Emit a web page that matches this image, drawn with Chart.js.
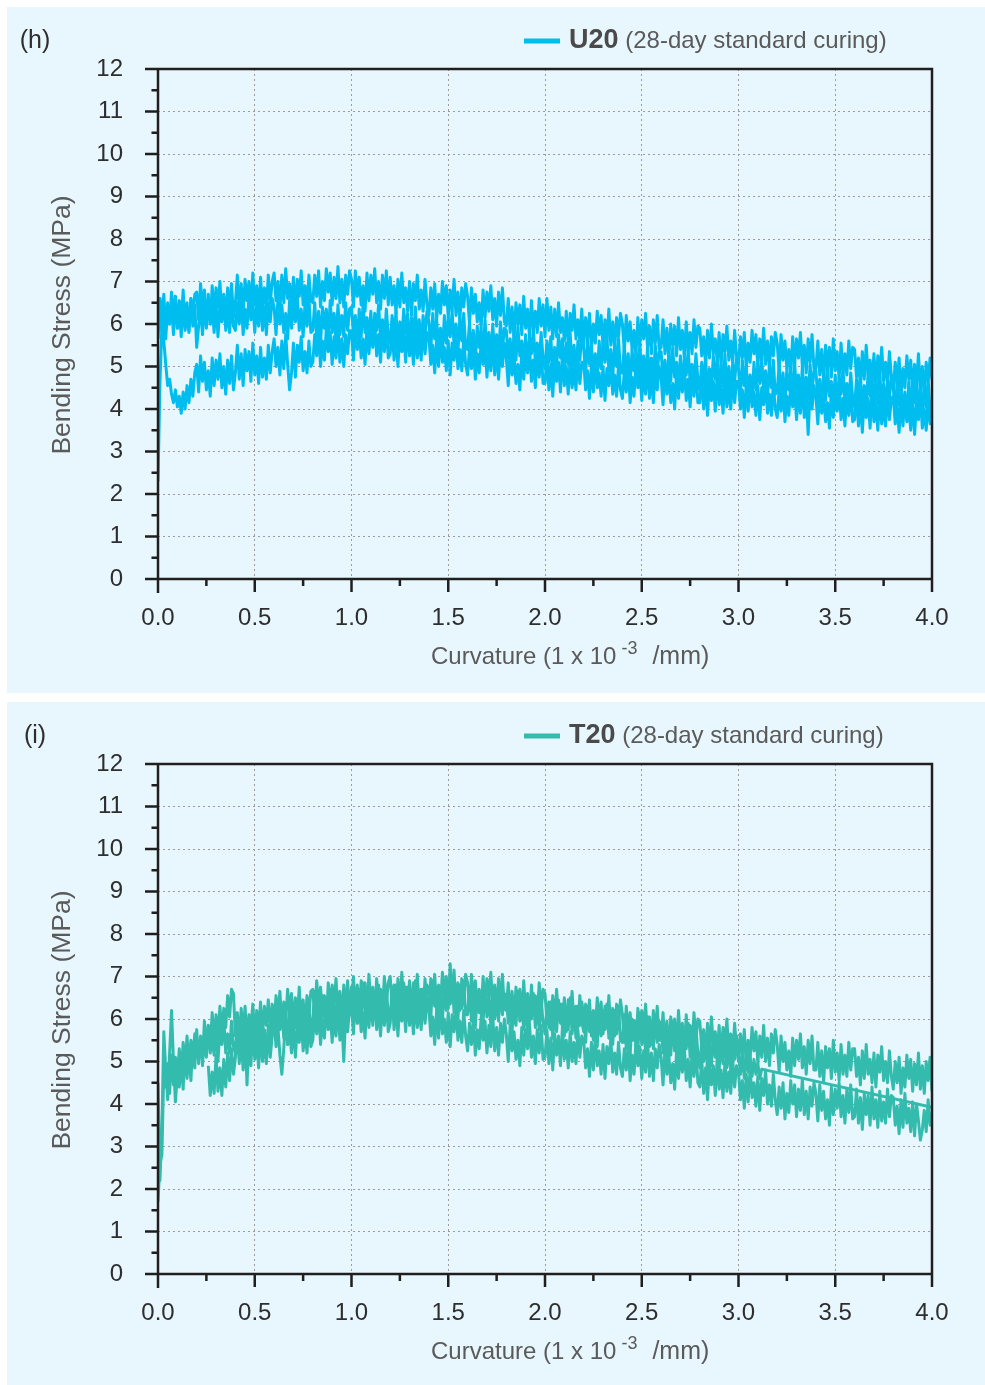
<!DOCTYPE html>
<html>
<head>
<meta charset="utf-8">
<title>Bending stress vs curvature</title>
<script src="https://cdn.jsdelivr.net/npm/chart.js@4.4.1/dist/chart.umd.min.js"></script>
<style>
  html, body { margin: 0; padding: 0; background: #ffffff; }
  body { width: 985px; height: 1385px; position: relative; overflow: hidden; }
  .panel { position: absolute; left: 7px; width: 978px; background: #e8f6fd; }
  #panelH { top: 7px; height: 686px; }
  #panelI { top: 702px; height: 683px; }
  canvas { display: block; }
</style>
</head>
<body>
<div class="panel" id="panelH"><canvas id="chartH" width="978" height="686"></canvas></div>
<div class="panel" id="panelI"><canvas id="chartI" width="978" height="683"></canvas></div>
<script>
const FONT = '"Liberation Sans", Arial, sans-serif';

// curvature sampling of the logged curves (1e-3 /mm)
const CURV_STEP = 0.01;

const curvTicks = [0, 0.5, 1, 1.5, 2, 2.5, 3, 3.5, 4];
const curvTickLabels = ['0.0', '0.5', '1.0', '1.5', '2.0', '2.5', '3.0', '3.5', '4.0'];
const stressTicks = [0, 1, 2, 3, 4, 5, 6, 7, 8, 9, 10, 11, 12];
const stressTickLabels = ['0', '1', '2', '3', '4', '5', '6', '7', '8', '9', '10', '11', '12'];

// U20, three specimens, stress (MPa) every CURV_STEP, one row per 0.2
const u20aStart = 0;
const u20aStress = [
  5.95, 6.60, 6.10, 6.70, 5.85, 6.45, 6.00, 6.75, 6.20, 6.65, 5.90, 6.55, 6.05, 6.80, 5.95, 6.50, 5.85, 6.60, 6.15, 6.70,
  6.75, 6.10, 6.95, 6.35, 6.80, 6.15, 6.60, 6.00, 6.90, 6.25, 6.85, 6.40, 7.00, 6.20, 6.70, 6.05, 6.85, 6.30, 6.95, 6.15,
  6.50, 7.15, 6.35, 6.95, 6.20, 7.05, 6.55, 7.00, 6.30, 7.20, 6.45, 6.90, 6.25, 7.10, 6.40, 6.85, 6.35, 7.15, 6.50, 7.00,
  7.20, 6.55, 7.00, 6.35, 7.15, 6.50, 7.30, 6.60, 6.95, 6.40, 7.10, 6.30, 7.05, 6.65, 7.25, 6.45, 6.90, 6.40, 7.15, 6.55,
  6.50, 7.15, 6.65, 7.25, 6.40, 7.00, 6.55, 7.30, 6.75, 7.20, 6.45, 7.10, 6.60, 7.35, 6.50, 7.05, 6.40, 7.15, 6.70, 7.25,
  7.05, 6.40, 7.25, 6.65, 7.10, 6.45, 6.90, 6.30, 7.20, 6.55, 7.15, 6.70, 7.30, 6.50, 7.00, 6.35, 7.15, 6.60, 7.25, 6.45,
  7.10, 6.45, 6.90, 6.25, 7.05, 6.40, 7.20, 6.50, 6.85, 6.30, 7.00, 6.20, 6.95, 6.55, 7.15, 6.35, 6.80, 6.30, 7.05, 6.45,
  6.20, 6.85, 6.35, 6.95, 6.10, 6.70, 6.25, 7.00, 6.45, 6.90, 6.15, 6.80, 6.30, 7.05, 6.20, 6.75, 6.10, 6.85, 6.40, 6.95,
  6.65, 6.00, 6.85, 6.25, 6.70, 6.05, 6.50, 5.90, 6.80, 6.15, 6.75, 6.30, 6.90, 6.10, 6.60, 5.95, 6.75, 6.20, 6.85, 6.05,
  5.95, 6.60, 5.80, 6.40, 5.65, 6.50, 6.00, 6.45, 5.75, 6.65, 5.90, 6.35, 5.70, 6.55, 5.85, 6.30, 5.80, 6.60, 5.95, 6.45,
  5.70, 6.60, 5.85, 6.40, 5.65, 6.35, 5.70, 6.50, 5.80, 6.15, 5.60, 6.30, 5.50, 6.25, 5.85, 6.45, 5.65, 6.10, 5.60, 6.35,
  5.50, 6.15, 5.65, 6.25, 5.40, 6.00, 5.55, 6.30, 5.75, 6.20, 5.45, 6.10, 5.60, 6.35, 5.50, 6.05, 5.40, 6.15, 5.70, 6.25,
  6.00, 5.35, 6.20, 5.60, 6.05, 5.40, 5.85, 5.25, 6.15, 5.50, 6.10, 5.65, 6.25, 5.45, 5.95, 5.30, 6.10, 5.55, 6.20, 5.40,
  5.45, 6.10, 5.30, 5.90, 5.15, 6.00, 5.50, 5.95, 5.25, 6.15, 5.40, 5.85, 5.20, 6.05, 5.35, 5.80, 5.30, 6.10, 5.45, 5.95,
  5.90, 5.25, 5.70, 5.05, 5.85, 5.20, 6.00, 5.30, 5.65, 5.10, 5.80, 5.00, 5.75, 5.35, 5.95, 5.15, 5.60, 5.10, 5.85, 5.25,
  5.05, 5.70, 5.20, 5.80, 4.95, 5.55, 5.10, 5.85, 5.30, 5.75, 5.00, 5.65, 5.15, 5.90, 5.05, 5.60, 4.95, 5.70, 5.25, 5.80,
  5.55, 4.90, 5.75, 5.15, 5.60, 4.95, 5.40, 4.80, 5.70, 5.05, 5.65, 5.20, 5.80, 5.00, 5.50, 4.85, 5.65, 5.10, 5.75, 4.95,
  4.95, 5.60, 4.80, 5.40, 4.65, 5.50, 5.00, 5.45, 4.75, 5.65, 4.90, 5.35, 4.70, 5.55, 4.85, 5.30, 4.80, 5.60, 4.95, 5.45,
  5.40, 4.75, 5.20, 4.55, 5.35, 4.70, 5.50, 4.80, 5.15, 4.60, 5.30, 4.50, 5.25, 4.85, 5.45, 4.65, 5.10, 4.60, 5.35, 4.75,
  4.45, 5.10, 4.60, 5.20, 4.35, 4.95, 4.50, 5.25, 4.70, 5.15, 4.40, 5.05, 4.55, 5.30, 4.45, 5.00, 4.35, 5.10, 4.65, 5.20,
  4.70
];
const u20bStart = 0;
const u20bStress = [
  5.65, 6.60, 5.80, 6.40, 5.65, 6.50, 6.00, 6.45, 5.75, 6.65, 5.90, 6.35, 5.70, 6.55, 5.85, 6.30, 5.80, 6.60, 5.95, 6.45,
  5.45, 5.95, 6.40, 5.75, 6.55, 5.90, 6.70, 6.00, 6.35, 5.80, 6.50, 5.70, 6.45, 6.05, 6.65, 5.85, 6.30, 5.80, 6.55, 5.95,
  5.85, 6.50, 6.00, 6.60, 5.75, 6.35, 5.90, 6.65, 6.10, 6.55, 5.80, 6.45, 5.95, 6.70, 5.85, 6.40, 5.75, 6.50, 6.05, 6.60,
  6.40, 5.75, 6.60, 6.00, 6.45, 5.80, 6.25, 5.65, 6.55, 5.90, 6.50, 6.05, 6.65, 5.85, 6.35, 5.70, 6.50, 5.95, 6.60, 5.80,
  5.85, 6.50, 5.70, 6.30, 5.55, 6.40, 5.90, 6.35, 5.65, 6.55, 5.80, 6.25, 5.60, 6.45, 5.75, 6.20, 5.70, 6.50, 5.85, 6.35,
  6.40, 5.75, 6.20, 5.55, 6.35, 5.70, 6.50, 5.80, 6.15, 5.60, 6.30, 5.50, 6.25, 5.85, 6.45, 5.65, 6.10, 5.60, 6.35, 5.75,
  5.55, 6.20, 5.70, 6.30, 5.45, 6.05, 5.60, 6.35, 5.80, 6.25, 5.50, 6.15, 5.65, 6.40, 5.55, 6.10, 5.45, 6.20, 5.75, 6.30,
  6.05, 5.40, 6.25, 5.65, 6.10, 5.45, 5.90, 5.30, 6.20, 5.55, 6.15, 5.70, 6.30, 5.50, 6.00, 5.35, 6.15, 5.60, 6.25, 5.45,
  5.40, 6.05, 5.25, 5.85, 5.10, 5.95, 5.45, 5.90, 5.20, 6.10, 5.35, 5.80, 5.15, 6.00, 5.30, 5.75, 5.25, 6.05, 5.40, 5.90,
  5.85, 5.20, 5.65, 5.00, 5.80, 5.15, 5.95, 5.25, 5.60, 5.05, 5.75, 4.95, 5.70, 5.30, 5.90, 5.10, 5.55, 5.05, 5.80, 5.20,
  4.95, 5.60, 5.10, 5.70, 4.85, 5.45, 5.00, 5.75, 5.20, 5.65, 4.90, 5.55, 5.05, 5.80, 4.95, 5.50, 4.85, 5.60, 5.15, 5.70,
  5.45, 4.80, 5.65, 5.05, 5.50, 4.85, 5.30, 4.70, 5.60, 4.95, 5.55, 5.10, 5.70, 4.90, 5.40, 4.75, 5.55, 5.00, 5.65, 4.85,
  4.85, 5.50, 4.70, 5.30, 4.55, 5.40, 4.90, 5.35, 4.65, 5.55, 4.80, 5.25, 4.60, 5.45, 4.75, 5.20, 4.70, 5.50, 4.85, 5.35,
  5.35, 4.70, 5.15, 4.50, 5.30, 4.65, 5.45, 4.75, 5.10, 4.55, 5.25, 4.45, 5.20, 4.80, 5.40, 4.60, 5.05, 4.55, 5.30, 4.70,
  4.45, 5.10, 4.60, 5.20, 4.35, 4.95, 4.50, 5.25, 4.70, 5.15, 4.40, 5.05, 4.55, 5.30, 4.45, 5.00, 4.35, 5.10, 4.65, 5.20,
  4.95, 4.30, 5.15, 4.55, 5.00, 4.35, 4.80, 4.20, 5.10, 4.45, 5.05, 4.60, 5.20, 4.40, 4.90, 4.25, 5.05, 4.50, 5.15, 4.35,
  4.40, 5.05, 4.25, 4.85, 4.10, 4.95, 4.45, 4.90, 4.20, 5.10, 4.35, 4.80, 4.15, 5.00, 4.30, 4.75, 4.25, 5.05, 4.40, 4.90,
  4.90, 4.25, 4.70, 4.05, 4.85, 4.20, 5.00, 4.30, 4.65, 4.10, 4.80, 4.00, 4.75, 4.35, 4.95, 4.15, 4.60, 4.10, 4.85, 4.25,
  4.05, 4.70, 4.20, 4.80, 3.95, 4.55, 4.10, 4.85, 4.30, 4.75, 4.00, 4.65, 4.15, 4.90, 4.05, 4.60, 3.95, 4.70, 4.25, 4.80,
  4.50, 3.85, 4.70, 4.10, 4.55, 3.90, 4.35, 3.75, 4.65, 4.00, 4.60, 4.15, 4.75, 3.95, 4.45, 3.80, 4.60, 4.05, 4.70, 3.90,
  4.20
];
const u20cStart = 0;
const u20cStress = [
  2.30, 4.60, 5.95, 5.60, 5.05, 4.55, 4.70, 4.35, 4.15, 4.45, 4.05, 4.30, 3.90, 4.40, 4.00, 4.55, 4.15, 4.70, 4.30, 4.85,
  5.05, 4.40, 5.25, 4.65, 5.10, 4.45, 4.90, 4.30, 5.20, 4.55, 5.15, 4.70, 5.30, 4.50, 5.00, 4.35, 5.15, 4.60, 5.25, 4.45,
  4.85, 5.50, 4.70, 5.30, 4.55, 5.40, 4.90, 5.35, 4.65, 5.55, 4.80, 5.25, 4.60, 5.45, 4.75, 5.20, 4.70, 5.50, 4.85, 5.35,
  5.65, 5.00, 5.45, 4.80, 5.60, 4.95, 5.75, 5.05, 4.45, 4.85, 5.55, 4.75, 5.50, 5.10, 5.70, 4.90, 5.35, 4.85, 5.60, 5.00,
  5.10, 5.75, 5.25, 5.85, 5.00, 5.60, 5.15, 5.90, 5.35, 5.80, 5.05, 5.70, 5.20, 5.95, 5.10, 5.65, 5.00, 5.75, 5.30, 5.85,
  5.80, 5.15, 6.00, 5.40, 5.85, 5.20, 5.65, 5.05, 5.95, 5.30, 5.90, 5.45, 6.05, 5.25, 5.75, 5.10, 5.90, 5.35, 6.00, 5.20,
  5.30, 5.95, 5.15, 5.75, 5.00, 5.85, 5.35, 5.80, 5.10, 6.00, 5.25, 5.70, 5.05, 5.90, 5.20, 5.65, 5.15, 5.95, 5.30, 5.80,
  5.70, 5.05, 5.50, 4.85, 5.65, 5.00, 5.80, 5.10, 5.45, 4.90, 5.60, 4.80, 5.55, 5.15, 5.75, 4.95, 5.40, 4.90, 5.65, 5.05,
  4.80, 5.45, 4.95, 5.55, 4.70, 5.30, 4.85, 5.60, 5.05, 5.50, 4.75, 5.40, 4.90, 5.65, 4.80, 5.35, 4.70, 5.45, 5.00, 5.55,
  5.20, 4.55, 5.40, 4.80, 5.25, 4.60, 5.05, 4.45, 5.35, 4.70, 5.30, 4.85, 5.45, 4.65, 5.15, 4.50, 5.30, 4.75, 5.40, 4.60,
  4.60, 5.25, 4.45, 5.05, 4.30, 5.15, 4.65, 5.10, 4.40, 5.30, 4.55, 5.00, 4.35, 5.20, 4.50, 4.95, 4.45, 5.25, 4.60, 5.10,
  5.10, 4.45, 4.90, 4.25, 5.05, 4.40, 5.20, 4.50, 4.85, 4.30, 5.00, 4.20, 4.95, 4.55, 5.15, 4.35, 4.80, 4.30, 5.05, 4.45,
  4.25, 4.90, 4.40, 5.00, 4.15, 4.75, 4.30, 5.05, 4.50, 4.95, 4.20, 4.85, 4.35, 5.10, 4.25, 4.80, 4.15, 4.90, 4.45, 5.00,
  4.75, 4.10, 4.95, 4.35, 4.80, 4.15, 4.60, 4.00, 4.90, 4.25, 4.85, 4.40, 5.00, 4.20, 4.70, 4.05, 4.85, 4.30, 4.95, 4.15,
  4.15, 4.80, 4.00, 4.60, 3.85, 4.70, 4.20, 4.65, 3.95, 4.85, 4.10, 4.55, 3.90, 4.75, 4.05, 4.50, 4.00, 4.80, 4.15, 4.65,
  4.65, 4.00, 4.45, 3.80, 4.60, 3.95, 4.75, 4.05, 4.40, 3.85, 4.55, 3.75, 4.50, 4.10, 4.70, 3.90, 4.35, 3.85, 4.60, 4.00,
  3.80, 4.45, 3.95, 4.55, 3.70, 4.30, 3.85, 4.60, 4.05, 4.50, 3.75, 4.40, 3.90, 4.65, 3.80, 4.35, 3.40, 4.45, 4.00, 4.55,
  4.30, 3.65, 4.50, 3.90, 4.35, 3.70, 4.15, 3.55, 4.45, 3.80, 4.40, 3.95, 4.55, 3.75, 4.25, 3.60, 4.40, 3.85, 4.50, 3.70,
  3.75, 4.40, 3.60, 4.20, 3.45, 4.30, 3.80, 4.25, 3.55, 4.45, 3.70, 4.15, 3.50, 4.35, 3.65, 4.10, 3.60, 4.40, 3.75, 4.25,
  4.30, 3.65, 4.10, 3.45, 4.25, 3.60, 4.40, 3.70, 4.05, 3.50, 4.20, 3.40, 4.15, 3.75, 4.35, 3.55, 4.00, 3.50, 4.25, 3.65,
  3.95
];

// T20, three specimens
const t20aStart = 0;
const t20aStress = [
  4.50, 2.20, 3.40, 5.70, 4.80, 4.10, 5.20, 6.20, 5.00, 4.05, 4.70, 4.40, 5.00, 4.35, 5.35, 4.60, 5.20, 4.55, 5.45, 4.85,
  5.75, 4.95, 5.60, 5.05, 5.95, 5.20, 5.85, 5.35, 6.15, 5.45, 6.10, 5.55, 6.30, 5.70, 6.25, 5.80, 6.55, 6.05, 6.70, 6.60,
  5.60, 6.15, 5.50, 6.25, 5.65, 6.30, 5.45, 6.10, 5.75, 6.35, 5.55, 6.20, 5.70, 6.40, 5.60, 6.30, 5.85, 6.45, 5.70, 6.35,
  5.90, 6.55, 6.05, 6.65, 5.80, 6.40, 5.95, 6.70, 6.15, 6.60, 5.85, 6.50, 6.00, 6.75, 5.90, 6.45, 5.80, 6.55, 6.10, 6.65,
  6.70, 6.05, 6.90, 6.30, 6.75, 6.10, 6.55, 5.95, 6.85, 6.20, 6.80, 6.35, 6.95, 6.15, 6.65, 6.00, 6.80, 6.25, 6.90, 6.10,
  6.35, 7.00, 6.20, 6.80, 6.05, 6.90, 6.40, 6.85, 6.15, 7.05, 6.30, 6.75, 6.10, 6.95, 6.25, 6.70, 6.20, 7.00, 6.35, 6.85,
  7.00, 6.35, 6.80, 6.15, 6.95, 6.30, 7.10, 6.40, 6.75, 6.20, 6.90, 6.10, 6.85, 6.45, 7.05, 6.25, 6.70, 6.20, 6.95, 6.35,
  6.30, 6.95, 6.45, 7.05, 6.20, 6.80, 6.35, 7.10, 6.55, 7.00, 6.25, 7.30, 6.40, 7.15, 6.30, 6.85, 6.20, 6.95, 6.50, 7.05,
  6.85, 6.20, 7.05, 6.45, 6.90, 6.25, 6.70, 6.10, 7.00, 6.35, 6.95, 6.50, 7.10, 6.30, 6.80, 6.15, 6.95, 6.40, 7.05, 6.25,
  6.20, 6.85, 6.05, 6.65, 5.90, 6.75, 6.25, 6.70, 6.00, 6.90, 6.15, 6.60, 5.95, 6.80, 6.10, 6.55, 6.05, 6.85, 6.20, 6.70,
  6.60, 5.95, 6.40, 5.75, 6.55, 5.90, 6.70, 6.00, 6.35, 5.80, 6.50, 5.70, 6.45, 6.05, 6.65, 5.85, 6.30, 5.80, 6.55, 5.95,
  5.70, 6.35, 5.85, 6.45, 5.60, 6.20, 5.75, 6.50, 5.95, 6.40, 5.65, 6.30, 5.80, 6.55, 5.70, 6.25, 5.60, 6.35, 5.90, 6.45,
  6.10, 5.45, 6.30, 5.70, 6.15, 5.50, 5.95, 5.35, 6.25, 5.60, 6.20, 5.75, 6.35, 5.55, 6.05, 5.40, 6.20, 5.65, 6.30, 5.50,
  5.50, 6.15, 5.35, 5.95, 5.20, 6.05, 5.55, 6.00, 5.30, 6.20, 5.45, 5.90, 5.25, 6.10, 5.40, 5.85, 5.35, 6.15, 5.50, 6.00,
  5.95, 5.30, 5.75, 5.10, 5.90, 5.25, 6.05, 5.35, 5.70, 5.15, 5.85, 5.05, 5.80, 5.40, 6.00, 5.20, 5.65, 5.15, 5.90, 5.30,
  5.00, 5.65, 5.15, 5.75, 4.90, 5.50, 5.05, 5.80, 5.25, 5.70, 4.95, 5.60, 5.10, 5.85, 5.00, 5.55, 4.90, 5.65, 5.20, 5.75,
  5.40, 4.75, 5.60, 5.00, 5.45, 4.80, 5.25, 4.65, 5.55, 4.90, 5.50, 5.05, 5.65, 4.85, 5.35, 4.70, 5.50, 4.95, 5.60, 4.80,
  4.80, 5.45, 4.65, 5.25, 4.50, 5.35, 4.85, 5.30, 4.60, 5.50, 4.75, 5.20, 4.55, 5.40, 4.70, 5.15, 4.65, 5.45, 4.80, 5.30,
  5.30, 4.65, 5.10, 4.45, 5.25, 4.60, 5.40, 4.70, 5.05, 4.50, 5.20, 4.40, 5.15, 4.75, 5.35, 4.55, 5.00, 4.50, 5.25, 4.65,
  4.35, 5.00, 4.50, 5.10, 4.25, 4.85, 4.40, 5.15, 4.60, 5.05, 4.30, 4.95, 4.45, 5.20, 4.35, 4.90, 4.25, 5.00, 4.55, 5.10,
  4.30
];
const t20bStart = 0.26;
const t20bStress = [
  4.90, 4.20, 4.75, 4.25, 5.15, 4.30, 4.85, 4.20, 5.05, 4.40, 5.20, 4.55, 5.30, 4.70,
  5.10, 5.75, 4.95, 5.55, 4.80, 5.65, 4.45, 5.60, 4.90, 5.80, 5.05, 5.50, 4.85, 5.70, 5.00, 5.45, 4.95, 5.75, 5.10, 5.60,
  6.00, 5.35, 5.80, 5.15, 4.70, 5.30, 6.10, 5.40, 5.75, 5.20, 5.90, 5.10, 5.85, 5.45, 6.05, 5.25, 5.70, 5.20, 5.95, 5.35,
  5.50, 6.15, 5.65, 6.25, 5.40, 6.00, 5.55, 6.30, 5.75, 6.20, 5.45, 6.10, 5.60, 6.35, 5.50, 6.05, 5.00, 6.15, 5.70, 6.25,
  6.30, 5.65, 6.50, 5.90, 6.35, 5.70, 6.15, 5.55, 6.45, 5.80, 6.40, 5.95, 6.55, 5.75, 6.25, 5.60, 6.40, 5.85, 6.50, 5.70,
  5.90, 6.55, 5.75, 6.35, 5.60, 6.45, 5.95, 6.40, 5.70, 6.60, 5.85, 6.30, 5.65, 6.50, 5.80, 6.25, 5.75, 6.55, 5.90, 6.40,
  6.25, 5.60, 6.05, 5.40, 6.20, 5.55, 6.35, 5.65, 6.00, 5.45, 6.15, 5.35, 6.10, 5.70, 6.30, 5.50, 5.95, 5.45, 6.20, 5.60,
  5.25, 5.90, 5.40, 6.00, 5.15, 5.75, 5.30, 6.05, 5.50, 5.95, 5.20, 5.85, 5.35, 6.10, 5.25, 5.80, 5.15, 5.90, 5.45, 6.00,
  5.65, 5.00, 5.85, 5.25, 5.70, 5.05, 5.50, 4.90, 5.80, 5.15, 5.75, 5.30, 5.90, 5.10, 5.60, 4.95, 5.75, 5.20, 5.85, 5.05,
  5.10, 5.75, 4.95, 5.55, 4.80, 5.65, 5.15, 5.60, 4.90, 5.80, 5.05, 5.50, 4.85, 5.70, 5.00, 5.45, 4.95, 5.75, 5.10, 5.60,
  5.50, 4.85, 5.30, 4.65, 5.45, 4.80, 5.60, 4.90, 5.25, 4.70, 5.40, 4.60, 5.35, 4.95, 5.55, 4.75, 5.20, 4.70, 5.45, 4.85,
  4.65, 5.30, 4.80, 5.40, 4.55, 5.15, 4.70, 5.45, 4.90, 5.35, 4.60, 5.25, 4.75, 5.50, 4.65, 5.20, 4.55, 5.30, 4.85, 5.40,
  5.10, 4.45, 5.30, 4.70, 5.15, 4.50, 4.95, 4.35, 5.25, 4.60, 5.20, 4.75, 5.35, 4.55, 5.05, 4.40, 5.20, 4.65, 5.30, 4.50,
  4.40, 5.05, 4.25, 4.85, 4.10, 4.95, 4.45, 4.90, 4.20, 5.10, 4.35, 4.80, 4.15, 5.00, 4.30, 4.75, 4.25, 5.05, 4.40, 4.90,
  4.75, 4.10, 4.55, 3.90, 4.70, 4.05, 4.85, 4.15, 4.50, 3.95, 4.65, 3.85, 4.60, 4.20, 4.80, 4.00, 4.45, 3.95, 4.70, 4.10,
  3.75, 4.40, 3.90, 4.50, 3.65, 4.25, 3.80, 4.55, 4.00, 4.45, 3.70, 4.35, 3.85, 4.60, 3.75, 4.30, 3.65, 4.40, 3.95, 4.50,
  4.25, 3.60, 4.45, 3.85, 4.30, 3.65, 4.10, 3.50, 4.40, 3.75, 4.35, 3.90, 4.50, 3.70, 4.20, 3.55, 4.35, 3.80, 4.45, 3.65,
  3.70, 4.35, 3.55, 4.15, 3.40, 4.25, 3.75, 4.20, 3.50, 4.40, 3.65, 4.10, 3.45, 4.30, 3.60, 4.05, 3.55, 4.35, 3.70, 4.20,
  4.15, 3.50, 3.95, 3.30, 4.10, 3.45, 4.25, 3.55, 3.90, 3.35, 4.05, 3.25, 4.00, 3.60, 3.15, 3.40, 3.85, 3.35, 4.10, 3.50,
  3.80
];
const t20cStart = 0;
const t20cStress = [
  1.70, 2.60, 2.80, 4.80, 4.40, 4.95, 4.25, 5.15, 4.45, 5.10, 4.65, 5.30, 4.70, 5.45, 4.85, 5.60, 4.90, 5.50, 5.05, 5.65,
  5.50, 5.05, 5.50, 4.90, 5.65, 5.10, 5.85, 5.20, 5.55, 5.15, 5.80, 5.00, 5.80, 5.40, 6.00, 5.20, 5.65, 5.20, 5.95, 5.35,
  5.20, 5.85, 5.35, 5.95, 5.10, 5.70, 5.25, 6.00, 5.45, 5.90, 5.15, 5.80, 5.30, 6.05, 5.20, 5.75, 5.10, 5.85, 5.40, 5.95,
  6.15, 5.50, 6.35, 5.75, 6.20, 5.55, 6.00, 5.40, 6.30, 5.65, 6.25, 5.80, 6.40, 5.60, 6.10, 5.45, 6.25, 5.70, 6.35, 5.55,
  6.00, 6.65, 5.85, 6.45, 5.70, 6.55, 6.05, 6.50, 5.80, 6.70, 5.95, 6.40, 5.75, 6.60, 5.90, 6.35, 5.85, 6.65, 6.00, 6.50,
  6.75, 6.10, 6.55, 5.90, 6.70, 6.05, 6.85, 6.15, 6.50, 5.95, 6.65, 5.85, 6.60, 6.20, 6.80, 6.00, 6.45, 5.95, 6.70, 6.10,
  6.05, 6.70, 6.20, 6.80, 5.95, 6.55, 6.10, 6.85, 6.30, 6.75, 6.00, 6.65, 6.15, 6.90, 6.05, 6.60, 5.95, 6.70, 6.25, 6.80,
  6.70, 6.05, 6.90, 6.30, 6.75, 6.10, 6.55, 5.95, 6.85, 6.20, 6.80, 6.35, 6.95, 6.15, 6.65, 6.00, 6.80, 6.25, 6.90, 6.10,
  6.10, 6.75, 5.95, 6.55, 5.80, 6.65, 6.15, 6.60, 5.90, 6.80, 6.05, 6.50, 5.85, 6.70, 6.00, 6.45, 5.95, 6.75, 6.10, 6.60,
  6.55, 5.90, 6.35, 5.70, 6.50, 5.85, 6.65, 5.95, 6.30, 5.75, 6.45, 5.65, 6.40, 6.00, 6.60, 5.80, 6.25, 5.75, 6.50, 5.90,
  5.65, 6.30, 5.80, 6.40, 5.55, 6.15, 5.70, 6.45, 5.90, 6.35, 5.60, 6.25, 5.75, 6.50, 5.65, 6.20, 5.55, 6.30, 5.85, 6.40,
  6.10, 5.45, 6.30, 5.70, 6.15, 5.50, 5.95, 5.35, 6.25, 5.60, 6.20, 5.75, 6.35, 5.55, 6.05, 5.40, 6.20, 5.65, 6.30, 5.50,
  5.45, 6.10, 5.30, 5.90, 5.15, 6.00, 5.50, 5.95, 5.25, 6.15, 5.40, 5.85, 5.20, 6.05, 5.35, 5.80, 5.30, 6.10, 5.45, 5.95,
  5.85, 5.20, 5.65, 5.00, 5.80, 5.15, 5.95, 5.25, 5.60, 5.05, 5.75, 4.95, 5.70, 5.30, 5.90, 5.10, 5.55, 5.05, 5.80, 5.20,
  4.85, 5.50, 5.00, 5.60, 4.75, 5.35, 4.90, 5.65, 5.10, 5.55, 4.80, 5.45, 4.95, 5.70, 4.85, 5.40, 4.75, 5.50, 5.05, 5.60,
  5.30, 4.70, 5.15, 4.60, 5.20, 4.75, 5.10, 4.65, 5.05, 4.70, 4.95, 4.60, 4.82
];
// last logged reading of specimen c after the gap
const t20cTailCurv = [4.0];
const t20cTailStress = [3.92];

function toPoints(start, stress) {
  return stress.map((s, i) => ({ x: +(start + i * CURV_STEP).toFixed(2), y: s }));
}

function curveDataset(points, colour) {
  return {
    data: points,
    showLine: true,
    borderColor: colour,
    borderWidth: 3,
    borderJoinStyle: 'round',
    pointRadius: 0,
    tension: 0,
    parsing: false,
  };
}

// frame, minor/major tick marks, titles, legend and panel tag
const panelDecor = {
  id: 'panelDecor',
  afterDraw(chart, args, opts) {
    const { ctx, chartArea: a, scales: { x, y } } = chart;
    ctx.save();
    ctx.setLineDash([]);
    ctx.strokeStyle = '#1f1f1f';
    ctx.lineWidth = 2.5;
    ctx.lineCap = 'butt';
    ctx.beginPath();
    ctx.moveTo(a.left - 13, a.bottom); ctx.lineTo(a.right, a.bottom);
    ctx.moveTo(a.left, a.bottom + 14); ctx.lineTo(a.left, a.top);
    ctx.lineTo(a.right, a.top); ctx.lineTo(a.right, a.bottom);
    for (let v = 0; v <= 12; v += 0.5) {
      const py = y.getPixelForValue(v);
      const len = Number.isInteger(v) ? 13 : 6.5;
      ctx.moveTo(a.left - len, py); ctx.lineTo(a.left, py);
    }
    for (let v = 0.25; v <= 4; v += 0.25) {
      const px = x.getPixelForValue(v);
      const len = (v * 2) % 1 === 0 ? 13 : 7;
      ctx.moveTo(px, a.bottom); ctx.lineTo(px, a.bottom + len);
    }
    ctx.stroke();

    // x title with superscript exponent
    ctx.fillStyle = '#5a5a5a';
    ctx.textBaseline = 'middle';
    ctx.textAlign = 'left';
    ctx.font = `24px ${FONT}`;
    const tx = a.left + 273;
    const ty = a.bottom + 78;
    const part1 = 'Curvature (1 x 10';
    const w1 = ctx.measureText(part1).width;
    ctx.fillText(part1, tx, ty);
    ctx.font = `18px ${FONT}`;
    const sup = '-3';
    const ws = ctx.measureText(sup).width;
    ctx.fillText(sup, tx + w1 + 5, ty - 8);
    ctx.font = `25px ${FONT}`;
    ctx.fillText('/mm)', tx + w1 + 5 + ws + 15, ty);

    // y title
    ctx.save();
    ctx.translate(56, (a.top + a.bottom) / 2 + 1);
    ctx.rotate(-Math.PI / 2);
    ctx.textAlign = 'center';
    ctx.font = `26.5px ${FONT}`;
    ctx.fillText('Bending Stress (MPa)', 0, 0);
    ctx.restore();

    // panel tag
    ctx.fillStyle = '#2e2e2e';
    ctx.textAlign = 'center';
    ctx.font = `25px ${FONT}`;
    ctx.fillText(opts.tag, 28, 34);

    // legend
    ctx.strokeStyle = opts.colour;
    ctx.lineWidth = 5;
    ctx.beginPath();
    ctx.moveTo(517, 34); ctx.lineTo(553, 34);
    ctx.stroke();
    ctx.textAlign = 'left';
    ctx.fillStyle = '#4a4a4a';
    ctx.font = `bold 27px ${FONT}`;
    ctx.fillText(opts.name, 562, 34);
    const wn = ctx.measureText(opts.name).width;
    ctx.fillStyle = '#5a5a5a';
    ctx.font = `24px ${FONT}`;
    ctx.fillText(' (28-day standard curing)', 562 + wn, 34);
    ctx.restore();
  }
};

function buildPanel(canvasId, datasets, colour, tag, name, bottomPad) {
  return new Chart(document.getElementById(canvasId), {
    type: 'scatter',
    data: { datasets },
    options: {
      responsive: false,
      animation: false,
      devicePixelRatio: 1,
      layout: { padding: { left: 51, right: 53, top: 62, bottom: bottomPad } },
      plugins: {
        legend: { display: false },
        tooltip: { enabled: false },
        panelDecor: { colour, tag, name },
      },
      scales: {
        x: {
          type: 'linear',
          min: 0,
          max: 4,
          afterBuildTicks: s => { s.ticks = curvTicks.map(v => ({ value: v })); },
          afterFit: s => { s.height = 90; s.paddingLeft = 0; s.paddingRight = 0; },
          ticks: {
            callback: (v, i) => curvTickLabels[i],
            autoSkip: false,
            maxRotation: 0,
            padding: 25,
            color: '#2e2e2e',
            font: { size: 24, family: FONT },
          },
          grid: { color: '#9c9c9c', lineWidth: 1, drawTicks: false },
          border: { display: false, dash: [2, 3] },
        },
        y: {
          type: 'linear',
          min: 0,
          max: 12,
          afterBuildTicks: s => { s.ticks = stressTicks.map(v => ({ value: v })); },
          afterFit: s => { s.width = 100; s.paddingTop = 0; s.paddingBottom = 0; },
          ticks: {
            callback: (v, i) => stressTickLabels[i],
            autoSkip: false,
            padding: 35,
            color: '#2e2e2e',
            font: { size: 24, family: FONT },
          },
          grid: { color: '#9c9c9c', lineWidth: 1, drawTicks: false },
          border: { display: false, dash: [2, 3] },
        },
      },
    },
    plugins: [panelDecor],
  });
}

const u20Colour = '#00bdf0';
const t20Colour = '#33bcad';

buildPanel('chartH', [
  curveDataset(toPoints(u20aStart, u20aStress), u20Colour),
  curveDataset(toPoints(u20bStart, u20bStress), u20Colour),
  curveDataset(toPoints(u20cStart, u20cStress), u20Colour),
], u20Colour, '(h)', 'U20', 24);

const t20cPoints = toPoints(t20cStart, t20cStress)
  .concat(t20cTailCurv.map((c, i) => ({ x: c, y: t20cTailStress[i] })));

buildPanel('chartI', [
  curveDataset(toPoints(t20aStart, t20aStress), t20Colour),
  curveDataset(toPoints(t20bStart, t20bStress), t20Colour),
  curveDataset(t20cPoints, t20Colour),
], t20Colour, '(i)', 'T20', 21);
</script>
</body>
</html>
